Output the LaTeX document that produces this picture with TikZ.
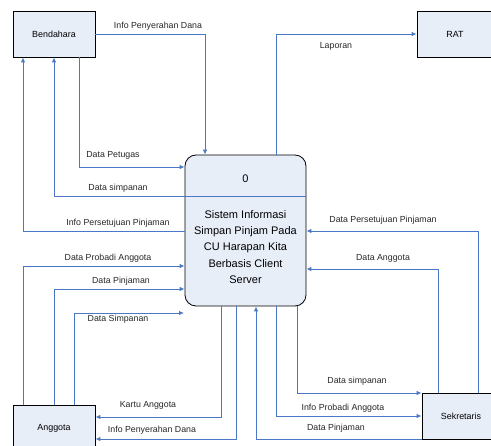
\documentclass[tikz,border=0pt]{standalone}
\usepackage{fontspec}
\setmainfont{Liberation Sans}
\usetikzlibrary{arrows.meta}
\definecolor{flowblue}{HTML}{4A78C6}
\definecolor{boxfill}{HTML}{E8EEF8}
\tikzset{
  ent/.style={draw=black, line width=0.8pt, fill=boxfill, inner sep=0pt, font=\fontsize{8.9}{10}\selectfont},
  flow/.style={draw=flowblue, line width=0.9pt, -{Latex[length=5pt,width=4.5pt]}},
  lbl/.style={inner sep=0pt, font=\fontsize{8.8}{10}\selectfont, text=black!85}
}
\begin{document}
\begin{tikzpicture}[x=1pt,y=-1pt]
\useasboundingbox (0,0) rectangle (491,446);
% entities
\node[ent, minimum width=82pt, minimum height=46pt] (bend) at (54,34) {Bendahara};
\node[ent, minimum width=76pt, minimum height=46pt] (rat) at (455,34) {RAT};
\node[ent, minimum width=82pt, minimum height=46pt] (ang) at (54,428) {Anggota};
\node[ent, minimum width=78pt, minimum height=46pt] (sek) at (461,416) {Sekretaris};
% process
\node[draw=black, line width=0.8pt, fill=boxfill, rounded corners=11pt, minimum width=121pt, minimum height=151pt, inner sep=0pt] (proc) at (245.5,230.5) {};
\draw[draw=flowblue, line width=0.9pt] (proc.west |- 0,196) -- (proc.east |- 0,196);
\node[inner sep=0pt, font=\fontsize{11}{13}\selectfont] (pnum) at (245.5,179) {0};
\node[inner sep=0pt, align=center, font=\fontsize{11}{16.2}\selectfont] (ptext) at (245.5,247) {Sistem Informasi\\Simpan Pinjam Pada\\CU Harapan Kita\\Berbasis Client\\Server};
% flows
\coordinate (dsEnd) at (184,313);
\draw[flow] (bend.east) -| (proc.north -| 205,0);
\draw[flow] (proc.north -| 276,0) |- (rat.west);
\draw[flow] (bend.south -| 79,0) |- (proc.west |- 0,167);
\draw[flow] (proc.west |- 0,196) -| (bend.south -| 54,0);
\draw[flow] (proc.west |- 0,231) -| (bend.south -| 23,0);
\draw[flow] (ang.north -| 23,0) |- (proc.west |- 0,266);
\draw[flow] (ang.north -| 54,0) |- (proc.west |- 0,289);
\draw[flow] (ang.north -| 74,0) |- (dsEnd);
\draw[flow] (proc.south -| 221,0) |- (ang.east |- 0,417);
\draw[flow] (proc.south -| 236,0) |- (ang.east |- 0,439);
\draw[flow] (sek.north -| 478,0) |- (proc.east |- 0,231);
\draw[flow] (sek.north -| 438,0) |- (proc.east |- 0,269);
\draw[flow] (proc.south -| 297,0) |- (sek.west |- 0,393);
\draw[flow] (proc.south -| 276,0) |- (sek.west);
\draw[flow] (sek.west |- 0,439) -| (proc.south -| 256,0);
% labels
\node[lbl] (l1) at (158,26) {Info Penyerahan Dana};
\node[lbl] (l2) at (336,46) {Laporan};
\node[lbl] (l3) at (113,155) {Data Petugas};
\node[lbl] (l4) at (118,188) {Data simpanan};
\node[lbl] (l5) at (118,223) {Info Persetujuan Pinjaman};
\node[lbl] (l6) at (108,258) {Data Probadi Anggota};
\node[lbl] (l7) at (121,281) {Data Pinjaman};
\node[lbl] (l8) at (118,319) {Data Simpanan};
\node[lbl] (l9) at (148,405) {Kartu Anggota};
\node[lbl] (l10) at (152,430) {Info Penyerahan Dana};
\node[lbl] (l11) at (383,220) {Data Persetujuan Pinjaman};
\node[lbl] (l12) at (383,258) {Data Anggota};
\node[lbl] (l13) at (357,381) {Data simpanan};
\node[lbl] (l14) at (343,408) {Info Probadi Anggota};
\node[lbl] (l15) at (336,428) {Data Pinjaman};
\end{tikzpicture}
\end{document}
